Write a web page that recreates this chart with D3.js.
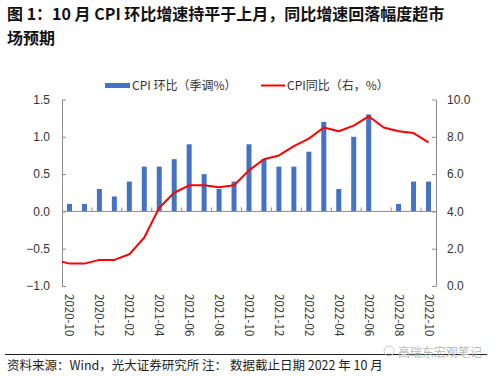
<!DOCTYPE html>
<html>
<head>
<meta charset="utf-8">
<script src="https://cdn.jsdelivr.net/npm/d3@7"></script>
<style>
  body { margin: 0; background: #fff; }
  svg { display: block; font-family: "Noto Sans CJK SC", "Noto Sans", sans-serif; }
</style>
</head>
<body>
<svg class="svg"></svg>
<script>
const months = ['2020-10', '2020-11', '2020-12', '2021-01', '2021-02', '2021-03', '2021-04',
    '2021-05', '2021-06', '2021-07', '2021-08', '2021-09', '2021-10', '2021-11', '2021-12',
    '2022-01', '2022-02', '2022-03', '2022-04', '2022-05', '2022-06', '2022-07', '2022-08',
    '2022-09', '2022-10'];
// CPI 环比（季调%）
const cpiMom = [0.1, 0.1, 0.3, 0.2, 0.4, 0.6, 0.6, 0.7, 0.9, 0.5, 0.3, 0.4, 0.9, 0.7, 0.6,
    0.6, 0.8, 1.2, 0.3, 1.0, 1.3, 0.0, 0.1, 0.4, 0.4];
// CPI同比（右，%）, first value is 2020-09 (cut by the plot edge)
const cpiYoyPrev = 1.4;
const cpiYoy = [1.2, 1.2, 1.4, 1.4, 1.7, 2.6, 4.2, 5.0, 5.4, 5.4, 5.3, 5.4, 6.2, 6.8, 7.0,
    7.5, 7.9, 8.5, 8.3, 8.6, 9.1, 8.5, 8.3, 8.2, 7.7];
const leftTicks = [-1.0, -0.5, 0.0, 0.5, 1.0, 1.5];
const rightTicks = [0, 2, 4, 6, 8, 10];

function drawChart () {
    const width = 500;
    const height = 376;
    const margin = { top: 100, right: 64, bottom: 90, left: 62 };

    const svg = d3.select('.svg')
        .attr('width', width)
        .attr('height', height);

    /* TITLE */
    const title = svg.append('g')
        .attr('font-size', '16px')
        .attr('font-weight', 'bold')
        .attr('fill', '#111');
    title.append('text').attr('x', 7).attr('y', 20)
        .text('图 1：10 月 CPI 环比增速持平于上月，同比增速回落幅度超市');
    title.append('text').attr('x', 7).attr('y', 44)
        .text('场预期');

    /* SCALES */
    const xScale = d3.scaleLinear()
        .domain([-0.5, months.length - 0.5])
        .range([margin.left, width - margin.right]);
    const yLeft = d3.scaleLinear()
        .domain([-1.0, 1.5])
        .range([height - margin.bottom, margin.top - 0.5]);
    const yRight = d3.scaleLinear()
        .domain([0, 10])
        .range([height - margin.bottom, margin.top - 0.5]);

    /* AXES */
    const leftAxis = d3.axisLeft(yLeft)
        .tickValues(leftTicks)
        .tickFormat(d3.format('.1f'))
        .tickSizeInner(-4)
        .tickSizeOuter(0)
        .tickPadding(12);
    const rightAxis = d3.axisRight(yRight)
        .tickValues(rightTicks)
        .tickFormat(d3.format('.1f'))
        .tickSizeInner(-4)
        .tickSizeOuter(0)
        .tickPadding(11);

    const gl = svg.append('g')
        .attr('transform', `translate(${margin.left}, 0)`)
        .call(leftAxis);
    const gr = svg.append('g')
        .attr('transform', `translate(${width - margin.right}, 0)`)
        .call(rightAxis);
    [gl, gr].forEach(g => {
        g.selectAll('path, line').attr('stroke', '#8c8c8c');
        g.selectAll('text')
            .attr('fill', '#333')
            .style('font-size', '12px');
    });

    /* BARS */
    const barWidth = 5;
    svg.append('g')
        .selectAll('rect')
        .data(cpiMom).enter()
        .append('rect')
        .attr('x', (d, i) => xScale(i) - barWidth / 2)
        .attr('y', d => yLeft(Math.max(d, 0)))
        .attr('width', barWidth)
        .attr('height', d => Math.abs(yLeft(d) - yLeft(0)))
        .attr('fill', '#4472c4');

    /* ZERO LINE + CATEGORY TICKS */
    const zero = svg.append('g').attr('stroke', '#8c8c8c');
    zero.append('line')
        .attr('x1', xScale.range()[0])
        .attr('x2', xScale.range()[1])
        .attr('y1', yLeft(0))
        .attr('y2', yLeft(0));
    zero.selectAll('.ctick')
        .data(d3.range(1.5, months.length - 1, 2)).enter()
        .append('line')
        .attr('class', 'ctick')
        .attr('x1', d => xScale(d))
        .attr('x2', d => xScale(d))
        .attr('y1', yLeft(0))
        .attr('y2', yLeft(0) - 4);

    /* X LABELS */
    svg.append('g')
        .selectAll('text')
        .data(months.filter((m, i) => i % 2 === 0)).enter()
        .append('text')
        .attr('transform', d => `translate(${xScale(months.indexOf(d)) - 4}, ${height - margin.bottom + 8}) rotate(90)`)
        .attr('fill', '#333')
        .style('font-size', '11.5px')
        .text(d => d);

    /* LINE */
    svg.append('clipPath')
        .attr('id', 'plot-clip')
        .append('rect')
        .attr('x', margin.left)
        .attr('y', 0)
        .attr('width', width - margin.left - margin.right)
        .attr('height', height);

    const yoyPoints = [[-1, cpiYoyPrev]].concat(cpiYoy.map((v, i) => [i, v]));
    const line = d3.line()
        .x(d => xScale(d[0]))
        .y(d => yRight(d[1]));
    svg.append('path')
        .datum(yoyPoints)
        .attr('clip-path', 'url(#plot-clip)')
        .attr('d', line)
        .attr('fill', 'none')
        .attr('stroke', '#ff0000')
        .attr('stroke-width', 2)
        .attr('stroke-linejoin', 'round');

    /* LEGEND */
    const legend = svg.append('g')
        .attr('id', 'legend')
        .style('font-size', '12px')
        .attr('fill', '#333');
    legend.append('rect')
        .attr('x', 105)
        .attr('y', 83)
        .attr('width', 25)
        .attr('height', 5)
        .attr('fill', '#4472c4');
    legend.append('text')
        .attr('x', 132)
        .attr('y', 90)
        .text('CPI 环比（季调%）');
    legend.append('line')
        .attr('x1', 261)
        .attr('x2', 285)
        .attr('y1', 85.5)
        .attr('y2', 85.5)
        .attr('stroke', '#ff0000')
        .attr('stroke-width', 2);
    legend.append('text')
        .attr('x', 287)
        .attr('y', 90)
        .text('CPI同比（右，%）');

    /* FOOTER */
    svg.append('line')
        .attr('x1', 5)
        .attr('x2', 487)
        .attr('y1', 354.5)
        .attr('y2', 354.5)
        .attr('stroke', '#222')
        .attr('stroke-width', 1);
    svg.append('text')
        .attr('x', 398)
        .attr('y', 357)
        .attr('fill', '#b8b8b8')
        .style('font-size', '12px')
        .text('高瑞东宏观笔记');
    svg.append('circle')
        .attr('cx', 389)
        .attr('cy', 351)
        .attr('r', 5)
        .attr('fill', 'none')
        .attr('stroke', '#c8c8c8');
    svg.append('text')
        .attr('x', 7)
        .attr('y', 370)
        .attr('fill', '#222')
        .style('font-size', '12.5px')
        .text('资料来源：Wind，光大证券研究所 注： 数据截止日期 2022 年 10 月');
}

document.addEventListener('DOMContentLoaded', () => drawChart());
</script>
</body>
</html>
